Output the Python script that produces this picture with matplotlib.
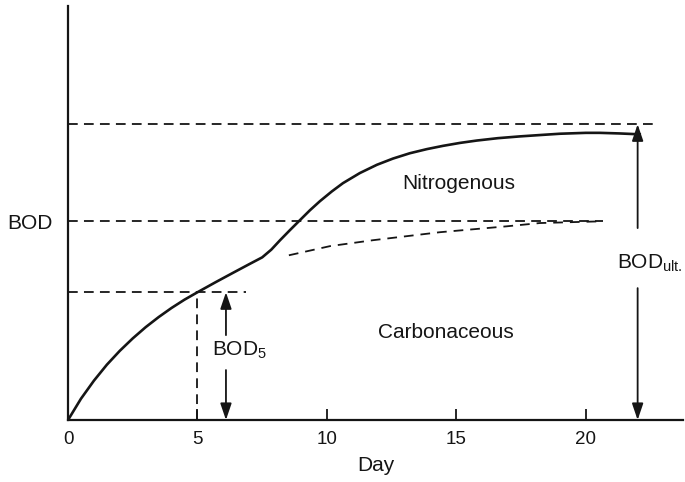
import matplotlib
matplotlib.use("Agg")
import matplotlib.pyplot as plt

plt.rcParams['font.family'] = ['Liberation Sans', 'DejaVu Sans']
plt.rcParams['mathtext.fontset'] = 'custom'
plt.rcParams['mathtext.rm'] = 'Liberation Sans'
plt.rcParams['lines.scale_dashes'] = False

# total BOD curve (carbonaceous + nitrogenous)
day_total = [0, 0.5, 1.0, 1.5, 2.0, 2.5, 3.0, 3.5, 4.0, 4.5, 5.0, 5.7,
             6.4, 7.0, 7.5, 7.85, 8.19, 8.57, 8.96, 9.34, 9.73, 10.19, 10.62,
             11.27, 11.93, 12.55, 13.2, 13.86, 14.48, 15.14, 15.79, 16.6, 17.45,
             18.3, 19.0, 20.0, 20.54, 21.3, 22.08]
bod_total = [0, 0.72, 1.33, 1.87, 2.34, 2.76, 3.14, 3.48, 3.79, 4.07, 4.32, 4.66,
             4.99, 5.27, 5.50, 5.76, 6.08, 6.42, 6.76, 7.09, 7.40, 7.73, 8.01,
             8.35, 8.63, 8.84, 9.02, 9.16, 9.27, 9.37, 9.45, 9.53, 9.59,
             9.64, 9.68, 9.71, 9.71, 9.69, 9.66]

# carbonaceous continuation (dash-dot)
day_carb = [8.53, 10.12, 11.78, 14.36, 16.95, 18.22, 20.66]
bod_carb = [5.57, 5.88, 6.08, 6.35, 6.55, 6.66, 6.72]

bod_ult = 10.0      # ultimate BOD
bod_c = 6.72        # carbonaceous ultimate ("BOD")
bod_5 = 4.32        # BOD5
x_ticks = [0, 5, 10, 15, 20]

ink = '#151515'
fig = plt.figure(figsize=(6.85, 4.82), dpi=100)
ax = fig.add_axes([0.0993, 0.1286, 0.8977, 0.859])

ax.plot(day_total, bod_total, color=ink, lw=1.9, solid_joinstyle='round')
ax.plot(day_carb, bod_carb, color=ink, lw=1.3, dashes=(7, 5))

# horizontal dashed reference lines
ax.plot([0, 22.6], [bod_ult, bod_ult], color=ink, lw=1.3, dashes=(7, 4.5))
ax.plot([0, 20.66], [bod_c, bod_c], color=ink, lw=1.3, dashes=(7, 4.5))
ax.plot([0, 6.87], [bod_5, bod_5], color=ink, lw=1.3, dashes=(7, 4.5))
ax.plot([5, 5], [0, bod_5], color=ink, lw=1.3, dashes=(7, 4.5))

arrow = dict(arrowstyle='-|>,head_length=0.5,head_width=0.17', color=ink,
             lw=1.3, mutation_scale=20, shrinkA=0, shrinkB=0)
# BOD5 arrows
ax.annotate('', xy=(6.1, bod_5), xytext=(6.1, 2.87), arrowprops=arrow)
ax.annotate('', xy=(6.1, 0), xytext=(6.1, 1.69), arrowprops=arrow)
ax.text(5.56, 2.36, 'BOD$_{\\mathrm{5}}$', fontsize=15, va='center', ha='left', color=ink)
# ultimate BOD arrows
ax.annotate('', xy=(22.0, bod_ult), xytext=(22.0, 6.49), arrowprops=arrow)
ax.annotate('', xy=(22.0, 0), xytext=(22.0, 4.46), arrowprops=arrow)
ax.text(21.2, 5.3, 'BOD$_{\\mathrm{ult.}}$', fontsize=15, va='center', ha='left', color=ink)

ax.text(15.1, 7.99, 'Nitrogenous', fontsize=15, ha='center', va='center', color=ink)
ax.text(14.6, 2.95, 'Carbonaceous', fontsize=15, ha='center', va='center', color=ink)

ax.set_xlim(0, 23.75)
ax.set_ylim(0, 14.0)
ax.set_xticks(x_ticks)
ax.tick_params(axis='x', direction='in', length=8, width=1.3, pad=8, labelsize=13.5,
               colors=ink)
ax.set_yticks([bod_c])
ax.set_yticklabels(['BOD'])
ax.tick_params(axis='y', length=0, pad=11, labelsize=15, colors=ink)
ax.set_xlabel('Day', fontsize=15, labelpad=6, color=ink)

for s in ['top', 'right']:
    ax.spines[s].set_visible(False)
for s in ['left', 'bottom']:
    ax.spines[s].set_linewidth(1.6)
    ax.spines[s].set_color(ink)

fig.savefig('out.png', dpi=100)
